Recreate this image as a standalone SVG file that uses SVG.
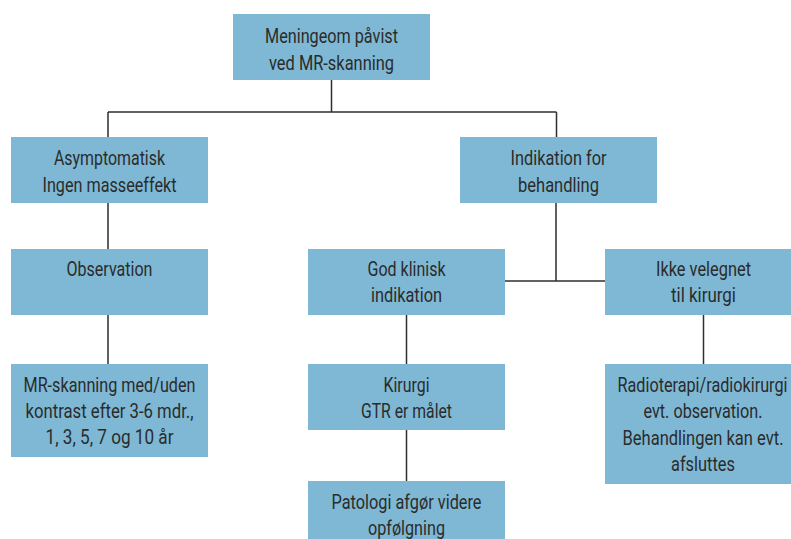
<svg xmlns="http://www.w3.org/2000/svg" width="791" height="539" viewBox="0 0 791 539">
<style>
.box{fill:#7eb8d4;}
.t{font-family:Roboto,"Liberation Sans",sans-serif;font-size:19.5px;fill:#2b2b2b;text-anchor:middle;}
.ln{stroke:#2f2f2f;stroke-width:1.5;fill:none;}
</style>
<rect width="791" height="539" fill="#ffffff"/>
<g id="connectors">
<path class="ln" d="M331.5 80 V112 M108 112 H556.5 M108 112 V137 M556.5 112 V137"/>
<path class="ln" d="M108 203 V249 M108 315 V364"/>
<path class="ln" d="M556 203 V281 M505 281 H605"/>
<path class="ln" d="M406.5 315 V364 M406.5 430 V481"/>
<path class="ln" d="M703.5 315 V364"/>
</g>
<g id="n-meningeom">
<rect class="box" x="233" y="14" width="197" height="66"/>
<text class="t" x="331.5" y="43" textLength="133" lengthAdjust="spacingAndGlyphs">Meningeom påvist</text>
<text class="t" x="331.5" y="70" textLength="125" lengthAdjust="spacingAndGlyphs">ved MR-skanning</text>
</g>
<g id="n-asymptomatisk">
<rect class="box" x="11" y="137" width="197" height="66"/>
<text class="t" x="109.5" y="164.5" textLength="111" lengthAdjust="spacingAndGlyphs">Asymptomatisk</text>
<text class="t" x="109.5" y="191.5" textLength="134" lengthAdjust="spacingAndGlyphs">Ingen masseeffekt</text>
</g>
<g id="n-indikation">
<rect class="box" x="460" y="137" width="197" height="66"/>
<text class="t" x="558.5" y="164.5" textLength="96" lengthAdjust="spacingAndGlyphs">Indikation for</text>
<text class="t" x="558.5" y="191.5" textLength="81" lengthAdjust="spacingAndGlyphs">behandling</text>
</g>
<g id="n-observation">
<rect class="box" x="11" y="249" width="197" height="66"/>
<text class="t" x="109.5" y="276" textLength="86" lengthAdjust="spacingAndGlyphs">Observation</text>
</g>
<g id="n-godklinisk">
<rect class="box" x="308" y="249" width="197" height="66"/>
<text class="t" x="406.5" y="275.5" textLength="78" lengthAdjust="spacingAndGlyphs">God klinisk</text>
<text class="t" x="406.5" y="302" textLength="71" lengthAdjust="spacingAndGlyphs">indikation</text>
</g>
<g id="n-ikke">
<rect class="box" x="605" y="249" width="186" height="66"/>
<text class="t" x="703.5" y="275.5" textLength="95" lengthAdjust="spacingAndGlyphs">Ikke velegnet</text>
<text class="t" x="703.5" y="302" textLength="65" lengthAdjust="spacingAndGlyphs">til kirurgi</text>
</g>
<g id="n-mrskanning">
<rect class="box" x="11" y="364" width="197" height="93"/>
<text class="t" x="109.5" y="392.3" textLength="172" lengthAdjust="spacingAndGlyphs">MR-skanning med/uden</text>
<text class="t" x="109.5" y="418.3" textLength="168" lengthAdjust="spacingAndGlyphs">kontrast efter 3-6 mdr.,</text>
<text class="t" x="109.5" y="444.3" textLength="128" lengthAdjust="spacingAndGlyphs">1, 3, 5, 7 og 10 år</text>
</g>
<g id="n-kirurgi">
<rect class="box" x="308" y="364" width="197" height="66"/>
<text class="t" x="406.5" y="392.3" textLength="46" lengthAdjust="spacingAndGlyphs">Kirurgi</text>
<text class="t" x="406.5" y="418.3" textLength="91" lengthAdjust="spacingAndGlyphs">GTR er målet</text>
</g>
<g id="n-radio">
<rect class="box" x="605" y="364" width="186" height="120"/>
<text class="t" transform="translate(702.5 392.3) scale(0.85 1)" x="0" y="0" textLength="200" lengthAdjust="spacingAndGlyphs">Radioterapi/radiokirurgi</text>
<text class="t" x="703" y="418.3" textLength="119" lengthAdjust="spacingAndGlyphs">evt. observation.</text>
<text class="t" transform="translate(703 445) scale(0.85 1)" x="0" y="0" textLength="189.4" lengthAdjust="spacingAndGlyphs">Behandlingen kan evt.</text>
<text class="t" x="703" y="471" textLength="64" lengthAdjust="spacingAndGlyphs">afsluttes</text>
</g>
<g id="n-patologi">
<rect class="box" x="308" y="481" width="197" height="58"/>
<text class="t" x="406.5" y="509.3" textLength="150" lengthAdjust="spacingAndGlyphs">Patologi afgør videre</text>
<text class="t" x="406.5" y="535" textLength="77" lengthAdjust="spacingAndGlyphs">opfølgning</text>
</g>
</svg>
